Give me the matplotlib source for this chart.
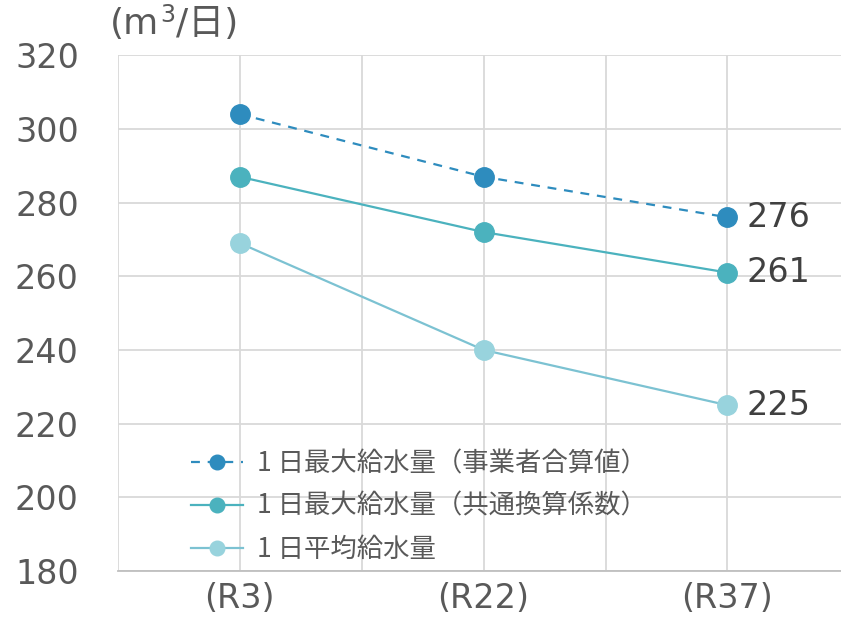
"""Daily water supply projection: max (operator total), max (common factor), average."""
import matplotlib

matplotlib.use('Agg')
import matplotlib.pyplot as plt
from matplotlib.transforms import offset_copy

plt.rcParams['font.family'] = ['DejaVu Sans', 'Noto Sans CJK JP']

years = ['(R3)', '(R22)', '(R37)']
max_operator = [304, 287, 276]
max_common = [287, 272, 261]
average = [269, 240, 225]
names = ['1 日最大給水量（事業者合算値）',
         '1 日最大給水量（共通換算係数）',
         '1 日平均給水量']

TEXT = '#595959'
GRID = '#D9D9D9'

fig = plt.figure(figsize=(8.41, 6.2), dpi=100)
ax = fig.add_axes([0.140, 0.079, 0.870, 0.832])

x = range(len(years))
series = [
    (max_operator, '#2E8CBE', '#2E8CBE', (0, (4, 3.5))),
    (max_common, '#4BB2BE', '#4BB2BE', '-'),
    (average, '#7CC2D2', '#98D3DD', '-'),
]
for (vals, lc, mc, ls), name in zip(series, names):
    ax.plot(x, vals, color=lc, linestyle=ls, linewidth=1.6, marker='o',
            markersize=14, markerfacecolor=mc, markeredgecolor=mc, label=name)
    ax.annotate(f'{vals[-1]}', (2, vals[-1]), xytext=(14, 0),
                textcoords='offset points', va='center', ha='left',
                fontsize=24, color='#404040')

ax.set_xlim(-0.5, 2.5)
ax.set_ylim(180, 320)
ax.set_yticks(range(180, 321, 20))
ax.set_xticks(list(x))
ax.set_xticklabels(years)
ax.set_xticks([-0.5, 0.5, 1.5, 2.5], minor=True)
ax.grid(True, which='both', color=GRID, linewidth=1.3)
ax.set_axisbelow(True)
ax.tick_params(axis='both', which='both', length=0, labelsize=24,
               colors=TEXT, pad=8)
ax.tick_params(axis='y', pad=28)
for side in ['top', 'right', 'left']:
    ax.spines[side].set_visible(False)
ax.spines['bottom'].set_color('#BFBFBF')
ax.spines['bottom'].set_linewidth(1.3)

# unit label: "(m", raised "3", "/日)" placed one after another
renderer = fig.canvas.get_renderer()
t1 = fig.text(0.131, 0.945, '(m', fontsize=26, color=TEXT,
              ha='left', va='baseline')
w1 = t1.get_window_extent(renderer).width
t2 = fig.text(0.131, 0.945, '3', fontsize=17, color=TEXT, ha='left',
              va='baseline',
              transform=offset_copy(fig.transFigure, fig=fig, x=w1 + 1,
                                    y=12, units='dots'))
w2 = t2.get_window_extent(renderer).width
fig.text(0.131, 0.945, '/日)', fontsize=26, color=TEXT, ha='left',
         va='baseline',
         transform=offset_copy(fig.transFigure, fig=fig, x=w1 + w2 + 2,
                               y=0, units='dots'))

leg = ax.legend(loc='lower left', bbox_to_anchor=(0.068, -0.030),
                frameon=False, prop={'family': 'Noto Sans CJK JP', 'size': 19},
                labelcolor=TEXT, handlelength=1.95, handletextpad=0.53,
                labelspacing=0.6, markerscale=0.75)

fig.savefig('out.png', dpi=100)
plt.close(fig)
